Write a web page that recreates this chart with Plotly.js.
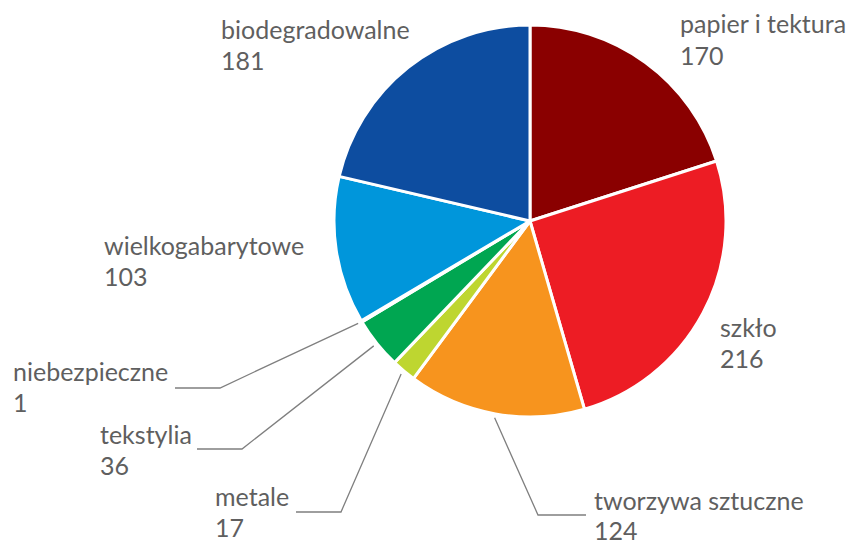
<!DOCTYPE html>
<html>
<head>
<meta charset="utf-8">
<script src="https://cdn.plot.ly/plotly-3.0.1.min.js"></script>
<style>html,body{margin:0;padding:0;background:#fff;}#chart{width:846px;height:541px;}</style>
</head>
<body>
<div id="chart"></div>
<script>
const categories = ["papier i tektura","szkło","tworzywa sztuczne","metale","tekstylia","niebezpieczne","wielkogabarytowe","biodegradowalne"];
const values = [170,216,124,17,36,1,103,181];
const colors = ["#8A0000","#ED1C24","#F7941E","#BED630","#00A651","#7A7A7A","#0096DB","#0D4DA0"];

const W = 846, H = 541;
const cx = 530, cy = 221, R = 196;
// label placement (pixels): [x, name y, value y]
const labelPos = {
  "papier i tektura": [678, 23, 55],
  "szkło": [718, 327, 358],
  "tworzywa sztuczne": [592, 500, 530],
  "metale": [213, 496, 527],
  "tekstylia": [98, 434, 465],
  "niebezpieczne": [11, 371, 402],
  "wielkogabarytowe": [102, 245, 276],
  "biodegradowalne": [219, 29, 60]
};
// leader lines: bend point and end x (pixels)
const leaders = {
  "tworzywa sztuczne": [538, 515, 586],
  "metale": [341, 512, 296],
  "tekstylia": [242, 449, 197],
  "niebezpieczne": [220, 388, 175]
};

const px = x => x / W, py = y => 1 - y / H;
const total = values.reduce((a,b)=>a+b,0);
const font = {family: "Lato, 'Open Sans', sans-serif", size: 25, color: "#5f5f5f"};

const annotations = [];
const shapes = [];
let cum = 0;
categories.forEach((c, i) => {
  const mid = (cum + values[i] / 2) / total * 2 * Math.PI;
  cum += values[i];
  const p = labelPos[c];
  annotations.push({x: px(p[0]), y: py(p[1]), xref:"paper", yref:"paper", xanchor:"left", yanchor:"middle", text: c, showarrow:false, font: font});
  annotations.push({x: px(p[0]), y: py(p[2]), xref:"paper", yref:"paper", xanchor:"left", yanchor:"middle", text: String(values[i]), showarrow:false, font: font});
  const L = leaders[c];
  if (L) {
    const sx = cx + 200 * Math.sin(mid), sy = cy - 200 * Math.cos(mid);
    shapes.push({type:"path", xref:"paper", yref:"paper",
      path: `M ${px(sx)} ${py(sy)} L ${px(L[0])} ${py(L[1])} L ${px(L[2])} ${py(L[1])}`,
      line: {color:"#7f7f7f", width:1.3}});
  }
});

const trace = {
  type: "pie",
  labels: categories,
  values: values,
  sort: false,
  direction: "clockwise",
  rotation: 0,
  textinfo: "none",
  hoverinfo: "label+value",
  marker: {colors: colors, line: {color: "#ffffff", width: 3}},
  domain: {x: [px(cx - R), px(cx + R)], y: [py(cy + R), py(cy - R)]},
  showlegend: false
};

const layout = {
  width: W, height: H,
  margin: {l:0, r:0, t:0, b:0},
  paper_bgcolor: "#ffffff",
  showlegend: false,
  annotations: annotations,
  shapes: shapes
};
Plotly.newPlot("chart", [trace], layout, {displayModeBar: false, staticPlot: true});
</script>
</body>
</html>
